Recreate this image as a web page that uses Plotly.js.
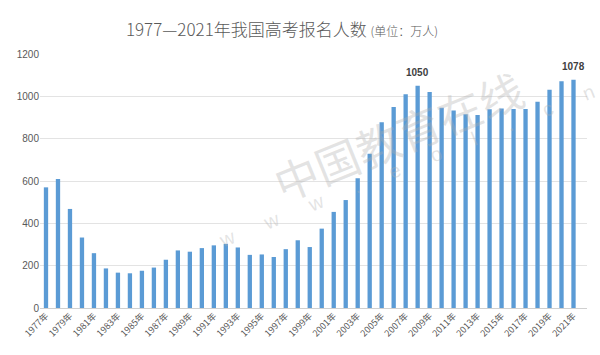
<!DOCTYPE html>
<html>
<head>
<meta charset="utf-8">
<script src="https://cdn.plot.ly/plotly-3.0.1.min.js"></script>
<style>html,body{margin:0;padding:0;background:#fff;}#chart{width:600px;height:355px;}</style>
</head>
<body>
<div id="chart"></div>
<script>
const years = ["1977年","1978年","1979年","1980年","1981年","1982年","1983年","1984年","1985年","1986年","1987年","1988年","1989年","1990年","1991年","1992年","1993年","1994年","1995年","1996年","1997年","1998年","1999年","2000年","2001年","2002年","2003年","2004年","2005年","2006年","2007年","2008年","2009年","2010年","2011年","2012年","2013年","2014年","2015年","2016年","2017年","2018年","2019年","2020年","2021年"];
const applicants = [570,610,468,333,259,187,167,164,176,191,228,272,266,283,296,303,286,251,253,241,278,320,288,375,454,510,613,729,877,950,1010,1050,1020,946,933,915,912,939,942,940,940,975,1031,1071,1078];
const tickYears = years.filter((y, i) => i % 2 === 0);
const labelled = ["2008年", "2021年"];
const yTicks = [0,200,400,600,800,1000,1200];

const trace = {
  type: "bar",
  x: years,
  y: applicants,
  marker: {color: "#5b9bd5"},
  hoverinfo: "x+y"
};

const valueLabels = labelled.map(y => ({
  x: y, y: applicants[years.indexOf(y)], xref: "x", yref: "y",
  text: "<b>" + applicants[years.indexOf(y)] + "</b>",
  showarrow: false, yanchor: "bottom", yshift: 6,
  font: {family: "Liberation Sans, Arial, sans-serif", size: 10, color: "#404040"}
}));

const layout = {
  width: 600, height: 355,
  margin: {l: 40, r: 13, t: 54, b: 47},
  paper_bgcolor: "#ffffff",
  plot_bgcolor: "#ffffff",
  bargap: 0.64,
  showlegend: false,
  title: {
    text: "1977—2021年我国高考报名人数 <span style='font-size:12px'>(单位：万人)</span>",
    font: {family: "Noto Sans CJK SC, sans-serif", size: 17, color: "#595959", weight: 300},
    x: 0.47, xanchor: "center", y: 0.915, yanchor: "middle"
  },
  xaxis: {
    type: "category",
    categoryorder: "array",
    categoryarray: years,
    tickmode: "array",
    tickvals: tickYears,
    ticktext: tickYears,
    tickangle: -45,
    tickfont: {family: "Noto Sans CJK SC, sans-serif", size: 9, color: "#595959"},
    showgrid: false,
    showline: false,
    ticks: ""
  },
  yaxis: {
    range: [0, 1200],
    tickmode: "array",
    tickvals: yTicks,
    ticktext: yTicks.map(String),
    tickfont: {family: "Liberation Sans, Arial, sans-serif", size: 10, color: "#595959"},
    showgrid: true,
    gridcolor: "#e3e3e3",
    gridwidth: 1,
    zeroline: true,
    zerolinecolor: "#d0d0d0",
    zerolinewidth: 1,
    ticks: "",
    fixedrange: true
  },
  annotations: valueLabels.concat([
    {text: "中国教育在线", xref: "paper", yref: "paper", x: 0.655, y: 0.68, xanchor: "center", yanchor: "middle",
     showarrow: false, textangle: -22,
     font: {family: "Noto Sans CJK SC, sans-serif", size: 44, color: "rgba(175,175,175,0.35)"}},
    {text: "w      w      w      .      e      o      l      .      c      n", xref: "paper", yref: "paper", x: 0.67, y: 0.56, xanchor: "center", yanchor: "middle",
     showarrow: false, textangle: -22,
     font: {family: "Liberation Sans, Arial, sans-serif", size: 20, color: "rgba(175,175,175,0.35)"}}
  ])
};

Plotly.newPlot("chart", [trace], layout, {displayModeBar: false, staticPlot: true});
</script>
</body>
</html>
